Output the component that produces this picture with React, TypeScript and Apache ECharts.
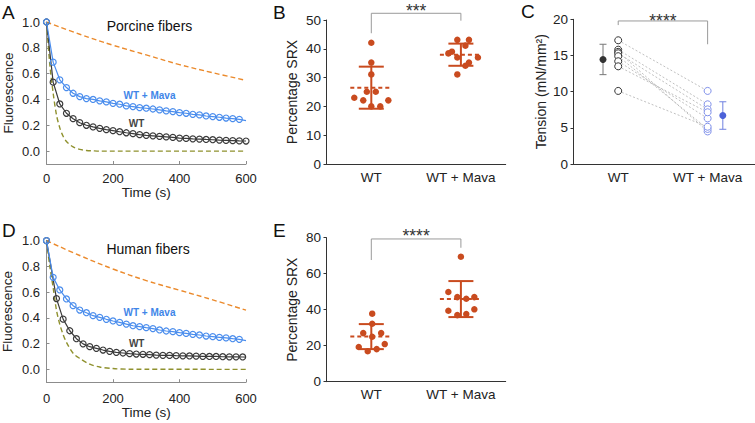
import React, { useEffect, useRef } from 'react';
import * as echarts from 'echarts';

const FONT = '"Liberation Sans", Arial, Helvetica, sans-serif';

// ---------- Panels A / D : fluorescence decay ----------
const fluorTicks = [0, 0.2, 0.4, 0.6, 0.8, 1.0];
const timeTicks = [0, 200, 400, 600];
const t20 = [0, 20, 40, 60, 80, 100, 120, 140, 160, 180, 200, 220, 240, 260, 280, 300, 320, 340, 360, 380, 400, 420, 440, 460, 480, 500, 520, 540, 560, 580];
const tA_wt = [0, 20, 40, 60, 80, 100, 120, 140, 160, 180, 200, 220, 240, 260, 280, 300, 320, 340, 360, 380, 400, 420, 440, 460, 480, 500, 520, 540, 560, 580, 600];
const tD_wt = [0, 30, 50, 70, 90, 110, 130, 150, 170, 190, 210, 230, 250, 270, 290, 310, 330, 350, 370, 390, 410, 430, 450, 470, 490, 510, 530, 550, 570, 590];
const tSlow = [0, 100, 200, 300, 400, 500, 600];
const tFastA = [0, 10, 20, 30, 40, 50, 60, 80, 100, 120, 140, 160, 600];
const tFastD = [0, 10, 20, 30, 40, 50, 60, 80, 100, 130, 160, 200, 250, 600];

const porcineMava = [1.0, 0.689, 0.552, 0.492, 0.448, 0.422, 0.407, 0.4, 0.389, 0.381, 0.37, 0.363, 0.35, 0.345, 0.337, 0.332, 0.326, 0.319, 0.311, 0.306, 0.298, 0.293, 0.285, 0.28, 0.272, 0.267, 0.262, 0.256, 0.251, 0.246];
const porcineMavaEnd = 0.236;
const porcineWT = [1.0, 0.534, 0.365, 0.293, 0.251, 0.22, 0.2, 0.187, 0.176, 0.166, 0.158, 0.15, 0.142, 0.135, 0.127, 0.122, 0.118, 0.114, 0.11, 0.106, 0.101, 0.098, 0.095, 0.093, 0.09, 0.088, 0.085, 0.083, 0.081, 0.079, 0.078];
const porcineSlow = [1.0, 0.905, 0.82, 0.745, 0.67, 0.607, 0.548];
const porcineFast = [1.0, 0.67, 0.45, 0.28, 0.18, 0.115, 0.075, 0.032, 0.013, 0.005, 0.002, 0, 0];

const humanMava = [1.0, 0.715, 0.617, 0.547, 0.495, 0.461, 0.44, 0.417, 0.404, 0.389, 0.376, 0.365, 0.352, 0.339, 0.332, 0.324, 0.317, 0.306, 0.298, 0.293, 0.285, 0.279, 0.272, 0.267, 0.259, 0.254, 0.249, 0.244, 0.238, 0.233];
const humanMavaEnd = 0.223;
const humanWT = [1.0, 0.55, 0.39, 0.3, 0.238, 0.198, 0.176, 0.163, 0.15, 0.14, 0.132, 0.127, 0.122, 0.119, 0.117, 0.114, 0.111, 0.109, 0.108, 0.106, 0.105, 0.104, 0.103, 0.101, 0.1, 0.1, 0.098, 0.097, 0.097, 0.096];
const humanSlow = [1.0, 0.885, 0.78, 0.69, 0.615, 0.54, 0.46];
const humanFast = [1.0, 0.8, 0.635, 0.46, 0.35, 0.27, 0.21, 0.125, 0.085, 0.04, 0.018, 0.006, 0.001, 0];

// ---------- Panels B / C / E ----------
const groups = ['WT', 'WT + Mava'];

const bWtX = [1.0, 1.0, 1.0, 0.95, 1.05, 0.81, 0.91, 1.19, 1.0, 1.1];
const bWtY = [42.1, 35.2, 31.1, 25.1, 25.1, 23.0, 22.1, 22.1, 20.0, 20.0];
const bMavaX = [1.96, 2.09, 2.05, 1.9, 1.86, 1.96, 2.19, 2.09, 2.05, 1.96];
const bMavaY = [43.1, 43.1, 41.1, 39.0, 38.4, 37.0, 37.0, 35.2, 34.1, 31.1];
const bMean = [26.5, 37.95];
const bSd = [7.3, 3.85];

const eWtX = [1.01, 1.01, 0.91, 1.11, 1.01, 0.86, 1.15, 0.96, 1.06];
const eWtY = [37.8, 32.2, 27.0, 27.0, 25.0, 19.3, 20.9, 16.9, 18.1];
const eMavaX = [2.0, 1.86, 1.96, 2.06, 2.15, 1.86, 2.15, 1.96, 2.06];
const eMavaY = [69.4, 49.8, 47.0, 46.1, 47.0, 39.4, 40.2, 37.0, 37.6];
const eMean = [25.05, 45.9];
const eSd = [6.95, 10.0];

const cWT = [17.1, 15.8, 15.5, 15.3, 14.9, 14.2, 13.5, 10.1];
const cMava = [10.1, 8.25, 4.5, 7.55, 4.85, 6.3, 7.15, 5.15];
const cMean = [14.45, 6.7];
const cSd = [2.1, 1.9];

const RED = '#c94b1f';
const BLUE = '#4a8ded';
const DARK = '#3a3a3a';
const ORANGE = '#eb8a2c';
const OLIVE = '#8f912e';

const zip = (xs: number[], ys: number[]) => xs.map((x, i) => [x, ys[i]]);

function errRender(color: string, meanHalf: number, capHalf: number, lw: number) {
  return (params: any, api: any) => {
    const x = api.value(0), m = api.value(1), s = api.value(2);
    const c = api.coord([x, m]);
    const hi = api.coord([x, m + s]);
    const lo = api.coord([x, m - s]);
    const st = { stroke: color, lineWidth: lw };
    const children: any[] = [
      { type: 'line', shape: { x1: c[0], y1: hi[1], x2: c[0], y2: lo[1] }, style: st },
      { type: 'line', shape: { x1: c[0] - capHalf, y1: hi[1], x2: c[0] + capHalf, y2: hi[1] }, style: st },
      { type: 'line', shape: { x1: c[0] - capHalf, y1: lo[1], x2: c[0] + capHalf, y2: lo[1] }, style: st },
    ];
    if (meanHalf > 0) {
      children.push({ type: 'line', shape: { x1: c[0] - meanHalf, y1: c[1], x2: c[0] + meanHalf, y2: c[1] }, style: { stroke: color, lineWidth: lw, lineDash: [4, 3] } });
    }
    return { type: 'group', children };
  };
}

function bracketRender(stars: string, starGap: number) {
  return (params: any, api: any) => {
    const x1 = api.value(0), x2 = api.value(1), yt = api.value(2), yl = api.value(3), yr = api.value(4);
    const pL = api.coord([x1, yl]);
    const pLT = api.coord([x1, yt]);
    const pRT = api.coord([x2, yt]);
    const pR = api.coord([x2, yr]);
    return {
      type: 'group',
      children: [
        { type: 'polyline', shape: { points: [pL, pLT, pRT, pR] }, style: { stroke: '#9a9a9a', lineWidth: 1, fill: null } },
        {
          type: 'text', x: (pLT[0] + pRT[0]) / 2, y: pLT[1] - starGap + 4,
          style: { text: stars, fill: '#333', fontSize: 17.5, fontFamily: FONT, align: 'center', verticalAlign: 'middle' },
        },
      ],
    };
  };
}

function fluorAxes(gi: number, labelMargin: number, nameGapX: number, nameGapY: number) {
  const x = {
    gridIndex: gi, type: 'value', min: 0, max: 600, interval: 200,
    axisLine: { show: true, onZero: false, lineStyle: { color: '#8c8c8c', width: 1 } },
    axisTick: { show: true, inside: true, length: 3, lineStyle: { color: '#8c8c8c' }, customValues: timeTicks },
    axisLabel: { fontSize: 13, color: '#222', margin: labelMargin, fontFamily: FONT, customValues: timeTicks },
    splitLine: { show: false },
    name: 'Time (s)', nameLocation: 'middle', nameGap: nameGapX,
    nameTextStyle: { fontSize: 13.5, color: '#222', fontFamily: FONT },
  };
  const y = {
    gridIndex: gi, type: 'value', min: -0.1, max: 1.0,
    axisLine: { show: true, onZero: false, lineStyle: { color: '#8c8c8c', width: 1 } },
    axisTick: { show: true, inside: true, length: 3, lineStyle: { color: '#8c8c8c' }, customValues: fluorTicks },
    axisLabel: { fontSize: 13, color: '#222', margin: 6.5, fontFamily: FONT, customValues: fluorTicks, formatter: (v: number) => v.toFixed(1) },
    splitLine: { show: false },
    name: 'Fluorescence', nameLocation: 'middle', nameGap: nameGapY,
    nameTextStyle: { fontSize: 13.5, color: '#222', fontFamily: FONT },
  };
  return { x, y };
}

function groupAxes(gi: number, xmax: number, ymax: number, interval: number, name: string, nameGap: number) {
  const x = {
    gridIndex: gi, type: 'value', min: 0.5, max: xmax,
    axisLine: { show: true, onZero: false, lineStyle: { color: '#333', width: 1 } },
    axisTick: { show: false },
    axisLabel: { fontSize: 13.5, color: '#222', margin: 6, fontFamily: FONT, customValues: [1, 2], formatter: (v: number) => groups[Math.round(v) - 1] },
    splitLine: { show: false },
  };
  const y = {
    gridIndex: gi, type: 'value', min: 0, max: ymax, interval,
    axisLine: { show: true, onZero: false, lineStyle: { color: '#333', width: 1 } },
    axisTick: { show: true, inside: false, length: 3, lineStyle: { color: '#333' } },
    axisLabel: { fontSize: 13.5, color: '#222', margin: 5.5, fontFamily: FONT },
    splitLine: { show: false },
    name, nameLocation: 'middle', nameGap,
    nameTextStyle: { fontSize: 14, color: '#222', fontFamily: FONT },
  };
  return { x, y };
}

function fluorSeries(gi: number, tWt: number[], wt: number[], mava: number[], mavaEnd: number, slowT: number[], slow: number[], fastT: number[], fast: number[], wtEnd: number | null) {
  const wtData: any[] = zip(tWt, wt);
  if (wtEnd !== null) wtData.push({ value: [600, wtEnd], symbol: 'none' });
  const mavaData: any[] = zip(t20, mava);
  mavaData.push({ value: [600, mavaEnd], symbol: 'none' });
  return [
    { type: 'line', xAxisIndex: gi, yAxisIndex: gi, data: zip(slowT, slow), smooth: 0.4, showSymbol: false, symbol: 'none', lineStyle: { color: ORANGE, width: 1.4, type: [5, 3] }, z: 2 },
    { type: 'line', xAxisIndex: gi, yAxisIndex: gi, data: zip(fastT, fast), smooth: 0.3, showSymbol: false, symbol: 'none', lineStyle: { color: OLIVE, width: 1.4, type: [5, 3] }, z: 2 },
    {
      type: 'line', xAxisIndex: gi, yAxisIndex: gi, data: wtData, clip: false,
      symbol: 'circle', symbolSize: 6, showAllSymbol: true,
      itemStyle: { color: 'rgba(255,255,255,0)', borderColor: DARK, borderWidth: 1.2 },
      lineStyle: { color: DARK, width: 1.2 }, z: 3,
    },
    {
      type: 'line', xAxisIndex: gi, yAxisIndex: gi, data: mavaData, clip: false,
      symbol: 'circle', symbolSize: 6, showAllSymbol: true,
      itemStyle: { color: 'rgba(255,255,255,0)', borderColor: BLUE, borderWidth: 1.2 },
      lineStyle: { color: BLUE, width: 1.2 }, z: 4,
    },
  ];
}

function dotSeries(gi: number, wx: number[], wy: number[], mx: number[], my: number[], mean: number[], sd: number[]) {
  return [
    {
      type: 'custom', xAxisIndex: gi, yAxisIndex: gi, clip: false, z: 2,
      renderItem: errRender(RED, 21, 12.5, 2),
      data: [[1, mean[0], sd[0]], [2, mean[1], sd[1]]],
      encode: { x: 0, y: 1 },
    },
    { type: 'scatter', xAxisIndex: gi, yAxisIndex: gi, data: zip(wx, wy), symbolSize: 6.5, itemStyle: { color: RED, opacity: 1 }, z: 3 },
    { type: 'scatter', xAxisIndex: gi, yAxisIndex: gi, data: zip(mx, my), symbolSize: 6.5, itemStyle: { color: RED, opacity: 1 }, z: 3 },
  ];
}

function bracketSeries(gi: number, stars: string, starGap: number, row: number[]) {
  return {
    type: 'custom', xAxisIndex: gi, yAxisIndex: gi, clip: false, z: 5,
    renderItem: bracketRender(stars, starGap),
    data: [row],
    encode: { x: [0, 1], y: [2, 3, 4] },
  };
}

const App: React.FC = () => {
  const ref = useRef<HTMLDivElement>(null);

  useEffect(() => {
    document.body.style.margin = '0';
    if (!ref.current) return;
    const chart = echarts.init(ref.current, undefined, { renderer: 'svg' });

    const aAx = fluorAxes(0, 7.5, 16, 31);
    const bAx = groupAxes(1, 2.5, 50, 10, 'Percentage SRX', 28);
    const cAx = groupAxes(2, 2.53, 20, 5, 'Tension (mN/mm²)', 25.5);
    const dAx = fluorAxes(3, 9.5, 19.5, 32);
    const eAx = groupAxes(4, 2.5, 80, 20, 'Percentage SRX', 28);

    const grids = [
      { left: 46.5, top: 22, width: 199.5, height: 142 },
      { left: 326.5, top: 20, width: 179.2, height: 144 },
      { left: 573.5, top: 19.3, width: 181.5, height: 144.7 },
      { left: 46.5, top: 240.7, width: 199.5, height: 141.5 },
      { left: 326.5, top: 237.7, width: 179.2, height: 144 },
    ].map((g) => ({ ...g, outerBoundsMode: 'none', containLabel: false }));

    const pairLines = cWT.map((w, i) => ({ coords: [[1, w], [2, cMava[i]]] }));

    const textEl = (text: string, x: number, y: number, fontSize: number, fill: string, weight: string = 'normal', align: string = 'center') => ({
      type: 'text', x, y, z: 10,
      style: { text, fontSize, fontFamily: FONT, fill, fontWeight: weight, align, verticalAlign: 'middle' },
    });

    const option: any = {
      animation: false,
      textStyle: { fontFamily: FONT },
      grid: grids,
      xAxis: [aAx.x, bAx.x, cAx.x, dAx.x, eAx.x],
      yAxis: [aAx.y, bAx.y, cAx.y, dAx.y, eAx.y],
      series: [
        ...fluorSeries(0, tA_wt, porcineWT, porcineMava, porcineMavaEnd, tSlow, porcineSlow, tFastA, porcineFast, null),
        ...fluorSeries(3, tD_wt, humanWT, humanMava, humanMavaEnd, tSlow, humanSlow, tFastD, humanFast, 0.095),
        ...dotSeries(1, bWtX, bWtY, bMavaX, bMavaY, bMean, bSd),
        ...dotSeries(4, eWtX, eWtY, eMavaX, eMavaY, eMean, eSd),
        {
          type: 'lines', coordinateSystem: 'cartesian2d', xAxisIndex: 2, yAxisIndex: 2,
          data: pairLines, lineStyle: { color: '#b0b0b0', width: 0.8, type: [2, 2], opacity: 1 }, z: 1,
        },
        {
          type: 'scatter', xAxisIndex: 2, yAxisIndex: 2, data: cWT.map((v) => [1, v]), symbolSize: 7,
          itemStyle: { color: '#fff', borderColor: '#333', borderWidth: 1, opacity: 1 }, z: 3,
        },
        {
          type: 'scatter', xAxisIndex: 2, yAxisIndex: 2, data: cMava.map((v) => [2, v]), symbolSize: 7,
          itemStyle: { color: '#fff', borderColor: '#7f90ea', borderWidth: 1, opacity: 1 }, z: 3,
        },
        {
          type: 'custom', xAxisIndex: 2, yAxisIndex: 2, clip: false, z: 2,
          renderItem: errRender('#777', 0, 3.5, 1), data: [[0.83, cMean[0], cSd[0]]], encode: { x: 0, y: 1 },
        },
        {
          type: 'custom', xAxisIndex: 2, yAxisIndex: 2, clip: false, z: 2,
          renderItem: errRender('#6f80e0', 0, 3.5, 1), data: [[2.17, cMean[1], cSd[1]]], encode: { x: 0, y: 1 },
        },
        {
          type: 'scatter', xAxisIndex: 2, yAxisIndex: 2, data: [[0.83, cMean[0]]], symbolSize: 7,
          itemStyle: { color: '#333', opacity: 1 }, z: 4,
        },
        {
          type: 'scatter', xAxisIndex: 2, yAxisIndex: 2, data: [[2.17, cMean[1]]], symbolSize: 7,
          itemStyle: { color: '#4c62d8', opacity: 1 }, z: 4,
        },
        bracketSeries(1, '***', 6.6, [1, 2, 52.33, 45.4, 49.76]),
        bracketSeries(4, '****', 7, [1, 2, 79.3, 67.6, 74.4]),
        bracketSeries(2, '****', 4.4, [1, 2, 19.77, 19.2, 16.55]),
      ],
      graphic: [
        textEl('A', 2, 12.5, 19, '#111', 'normal', 'left'),
        textEl('B', 273, 12, 19, '#111', 'normal', 'left'),
        textEl('C', 521, 11.5, 19, '#111', 'normal', 'left'),
        textEl('D', 2, 230, 19, '#111', 'normal', 'left'),
        textEl('E', 273, 230, 19, '#111', 'normal', 'left'),
        textEl('Porcine fibers', 149.5, 26, 14, '#111'),
        textEl('Human fibers', 148, 249, 14, '#111'),
        textEl('WT + Mava', 149.5, 95.3, 10, '#3f86e8', 'bold'),
        textEl('WT', 136.5, 123.7, 10, '#444', 'bold'),
        textEl('WT + Mava', 149.5, 312.7, 10, '#3f86e8', 'bold'),
        textEl('WT', 136.7, 343.3, 10, '#444', 'bold'),
      ],
    };

    chart.setOption(option);
    return () => chart.dispose();
  }, []);

  return <div ref={ref} style={{ position: 'absolute', left: 0, top: 0, width: 755, height: 423 }} />;
};

export default App;
